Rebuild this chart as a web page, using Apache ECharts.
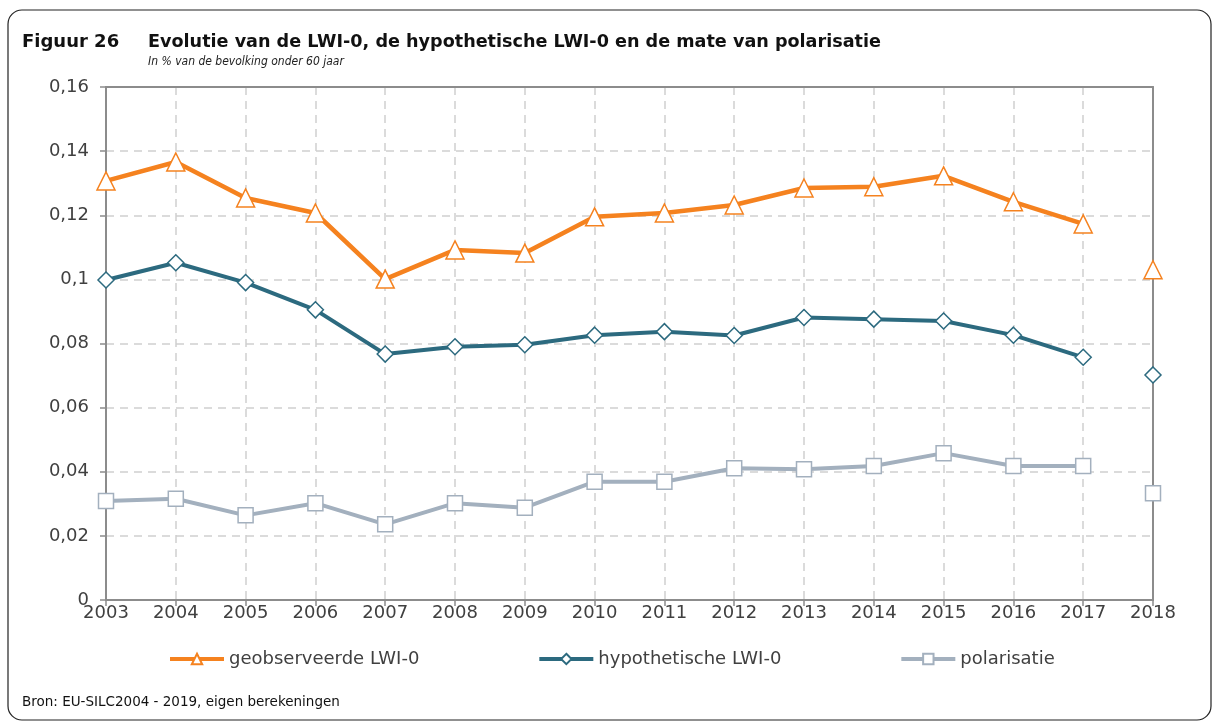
<!DOCTYPE html>
<html><head><meta charset="utf-8">
<script src="https://cdn.jsdelivr.net/npm/echarts@6/dist/echarts.min.js"></script>
<style>html,body{margin:0;padding:0;background:#fff}#c{width:1215px;height:727px}</style>
</head><body><div id="c"></div>
<script>
const years = ['2003','2004','2005','2006','2007','2008','2009','2010','2011','2012','2013','2014','2015','2016','2017','2018'];
const observed = [0.1307,0.1366,0.1254,0.1207,0.1001,0.1092,0.1082,0.1195,0.1207,0.1232,0.1285,0.1289,0.1323,0.1242,0.1173];
const observed2018 = 0.1030;
const hypothetical = [0.0998,0.1052,0.0990,0.0905,0.0767,0.0790,0.0796,0.0826,0.0837,0.0825,0.0881,0.0876,0.0870,0.0826,0.0757];
const hypothetical2018 = 0.0702;
const polarisation = [0.0309,0.0316,0.0264,0.0302,0.0236,0.0302,0.0288,0.0369,0.0369,0.0411,0.0408,0.0418,0.0458,0.0418,0.0418];
const polarisation2018 = 0.0333;
const yTicks = [0,0.02,0.04,0.06,0.08,0.1,0.12,0.14,0.16];

const FONT = 'DejaVu Sans, sans-serif';
const CFONT = 'DejaVu Sans Condensed, DejaVu Sans, sans-serif';
const ORANGE = '#F5821F', TEAL = '#2C6A7F', GREY = '#A3B0BE';
const AX = '#8c8c8c';
function only2018(v){ const a = years.map(()=>null); a[years.length-1] = v; return a; }
function mk(name, data, color, symbol, lw, size){
  return {name, type:'line', data, symbol, symbolSize:size, showAllSymbol:true,
    lineStyle:{color, width:lw}, itemStyle:{color:'#fff', borderColor:color, borderWidth:1.5},
    emphasis:{disabled:true}, z:3};
}
const chart = echarts.init(document.getElementById('c'), null, {renderer:'canvas'});
chart.setOption({
  animation:false,
  textStyle:{fontFamily:FONT},
  graphic:[
    {type:'rect', shape:{x:8,y:10,width:1203,height:710,r:14}, style:{fill:'none', stroke:'#222', lineWidth:1.2}, silent:true},
    {type:'text', left:22, top:33, style:{text:'Figuur 26', font:'bold 18px '+FONT, fill:'#111'}},
    {type:'text', left:148, top:33, style:{text:'Evolutie van de LWI-0, de hypothetische LWI-0 en de mate van polarisatie', font:'bold 17.6px '+FONT, fill:'#111'}},
    {type:'text', left:148, top:56, style:{text:'In % van de bevolking onder 60 jaar', font:'italic 12px '+CFONT, fill:'#222'}},
    {type:'text', left:22, top:695, style:{text:'Bron: EU-SILC2004 - 2019, eigen berekeningen', font:'13.5px '+FONT, fill:'#111'}}
  ],
  grid:{left:106, right:62, top:87, bottom:127},
  legend:{bottom:54, left:163, itemGap:118, itemWidth:54, itemHeight:13,
    lineStyle:{width:4},
    textStyle:{fontSize:18, color:'#404040', fontFamily:FONT},
    data:['geobserveerde LWI-0','hypothetische LWI-0','polarisatie']},
  xAxis:[{type:'category', data:years, boundaryGap:false,
    axisLine:{lineStyle:{color:AX, width:2}},
    axisTick:{show:true, length:6, lineStyle:{color:AX, width:1.5}},
    axisLabel:{fontSize:18, color:'#404040', margin:4},
    splitLine:{show:true, lineStyle:{color:'#d0d0d0', type:[8,6], width:1.5}}},
    {type:'category', data:years, boundaryGap:false, position:'top',
    axisLine:{show:true, onZero:false, lineStyle:{color:AX, width:2}}, axisTick:{show:false}, axisLabel:{show:false}, splitLine:{show:false}}],
  yAxis:[{type:'value', min:0, max:0.16, interval:0.02,
    axisLine:{show:true, lineStyle:{color:AX, width:2}},
    axisTick:{show:true, length:6, lineStyle:{color:AX, width:1.5}},
    axisLabel:{fontSize:18, color:'#404040', margin:17,
      formatter:v=>{ const t = yTicks.find(x=>Math.abs(x-v)<1e-9); return String(+((t!==undefined?t:v).toFixed(2))).replace('.',','); }},
    splitLine:{show:true, lineStyle:{color:'#d0d0d0', type:[8,6], width:1.5}}},
    {type:'value', min:0, max:0.16, interval:0.02, position:'right',
    axisLine:{show:true, onZero:false, lineStyle:{color:AX, width:2}}, axisTick:{show:false}, axisLabel:{show:false}, splitLine:{show:false}}],
  series:[
    mk('geobserveerde LWI-0', observed, ORANGE, 'triangle', 4.5, 18),
    mk('hypothetische LWI-0', hypothetical, TEAL, 'diamond', 4, 16),
    mk('polarisatie', polarisation, GREY, 'rect', 4, 15),
    mk('geobserveerde LWI-0', only2018(observed2018), ORANGE, 'triangle', 4.5, 18),
    mk('hypothetische LWI-0', only2018(hypothetical2018), TEAL, 'diamond', 4, 16),
    mk('polarisatie', only2018(polarisation2018), GREY, 'rect', 4, 15)
  ]
});
</script></body></html>
